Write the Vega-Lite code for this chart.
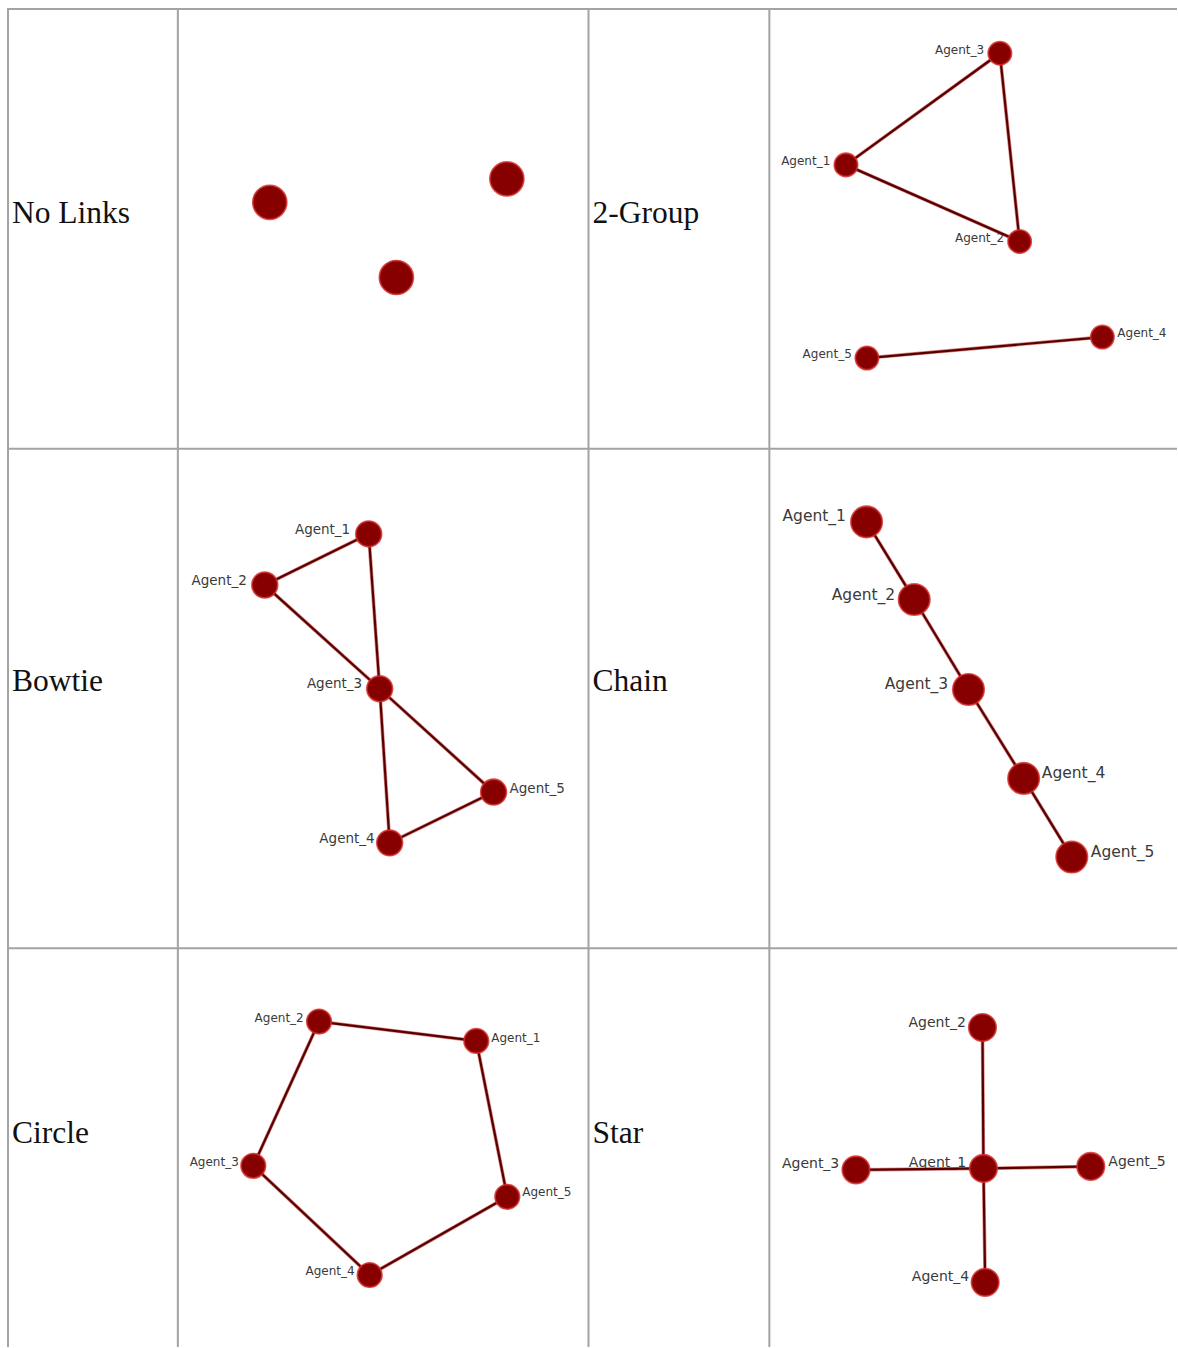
{
  "$schema": "https://vega.github.io/schema/vega-lite/v6.json",
  "width": 1178,
  "height": 1348,
  "autosize": {"type": "fit", "contains": "padding"},
  "padding": 0,
  "background": "white",
  "config": {"view": {"stroke": null}},
  "datasets": {
    "grid": [
      {"x1": 7, "y1": 9, "x2": 1178, "y2": 9},
      {"x1": 8, "y1": 449, "x2": 1178, "y2": 449},
      {"x1": 8, "y1": 949, "x2": 1178, "y2": 949},
      {"x1": 8, "y1": 9, "x2": 8, "y2": 1348},
      {"x1": 178, "y1": 9, "x2": 178, "y2": 1348},
      {"x1": 589, "y1": 9, "x2": 589, "y2": 1348},
      {"x1": 770, "y1": 9, "x2": 770, "y2": 1348}
    ],
    "rows": [
      {"label": "No Links", "x": 12, "y": 223},
      {"label": "2-Group", "x": 593, "y": 223},
      {"label": "Bowtie", "x": 12, "y": 692},
      {"label": "Chain", "x": 593, "y": 692},
      {"label": "Circle", "x": 12, "y": 1144},
      {"label": "Star", "x": 593, "y": 1144}
    ],
    "nodes": [
      {"id": "No Links A", "panel": "No Links", "agent": "", "x": 270, "y": 202.5, "lx": 270, "ly": 202, "side": "none"},
      {"id": "No Links B", "panel": "No Links", "agent": "", "x": 507.3, "y": 179, "lx": 507, "ly": 179, "side": "none"},
      {"id": "No Links C", "panel": "No Links", "agent": "", "x": 396.7, "y": 277.7, "lx": 397, "ly": 278, "side": "none"},

      {"id": "2-Group Agent_1", "panel": "2-Group", "agent": "Agent_1", "x": 846.7, "y": 165, "lx": 831, "ly": 161.5, "side": "left"},
      {"id": "2-Group Agent_2", "panel": "2-Group", "agent": "Agent_2", "x": 1020.5, "y": 241.7, "lx": 1005, "ly": 238.3, "side": "left"},
      {"id": "2-Group Agent_3", "panel": "2-Group", "agent": "Agent_3", "x": 1000.7, "y": 53.3, "lx": 985, "ly": 50, "side": "left"},
      {"id": "2-Group Agent_4", "panel": "2-Group", "agent": "Agent_4", "x": 1103.3, "y": 337.3, "lx": 1118.3, "ly": 333.3, "side": "right"},
      {"id": "2-Group Agent_5", "panel": "2-Group", "agent": "Agent_5", "x": 867.7, "y": 358.3, "lx": 852.5, "ly": 354, "side": "left"},

      {"id": "Bowtie Agent_1", "panel": "Bowtie", "agent": "Agent_1", "x": 369, "y": 534.3, "lx": 350.5, "ly": 530, "side": "left"},
      {"id": "Bowtie Agent_2", "panel": "Bowtie", "agent": "Agent_2", "x": 265, "y": 585.5, "lx": 247, "ly": 581.5, "side": "left"},
      {"id": "Bowtie Agent_3", "panel": "Bowtie", "agent": "Agent_3", "x": 380, "y": 689.3, "lx": 362.5, "ly": 685, "side": "left"},
      {"id": "Bowtie Agent_4", "panel": "Bowtie", "agent": "Agent_4", "x": 390, "y": 843.5, "lx": 375, "ly": 839.3, "side": "left"},
      {"id": "Bowtie Agent_5", "panel": "Bowtie", "agent": "Agent_5", "x": 494, "y": 792.7, "lx": 510, "ly": 789.3, "side": "right"},

      {"id": "Chain Agent_1", "panel": "Chain", "agent": "Agent_1", "x": 867.3, "y": 522.3, "lx": 846.7, "ly": 516.7, "side": "left"},
      {"id": "Chain Agent_2", "panel": "Chain", "agent": "Agent_2", "x": 915, "y": 600, "lx": 896, "ly": 595.7, "side": "left"},
      {"id": "Chain Agent_3", "panel": "Chain", "agent": "Agent_3", "x": 969.3, "y": 690, "lx": 949, "ly": 684.3, "side": "left"},
      {"id": "Chain Agent_4", "panel": "Chain", "agent": "Agent_4", "x": 1024.5, "y": 779, "lx": 1042.7, "ly": 774, "side": "right"},
      {"id": "Chain Agent_5", "panel": "Chain", "agent": "Agent_5", "x": 1072.7, "y": 857.7, "lx": 1091.7, "ly": 852.7, "side": "right"},

      {"id": "Circle Agent_1", "panel": "Circle", "agent": "Agent_1", "x": 476.7, "y": 1041.7, "lx": 491.7, "ly": 1038.3, "side": "right"},
      {"id": "Circle Agent_2", "panel": "Circle", "agent": "Agent_2", "x": 319.3, "y": 1022.3, "lx": 304, "ly": 1018.3, "side": "left"},
      {"id": "Circle Agent_3", "panel": "Circle", "agent": "Agent_3", "x": 253.5, "y": 1166.7, "lx": 239, "ly": 1163.3, "side": "left"},
      {"id": "Circle Agent_4", "panel": "Circle", "agent": "Agent_4", "x": 370, "y": 1276, "lx": 355, "ly": 1271.7, "side": "left"},
      {"id": "Circle Agent_5", "panel": "Circle", "agent": "Agent_5", "x": 507.7, "y": 1197.7, "lx": 522.7, "ly": 1193.3, "side": "right"},

      {"id": "Star Agent_1", "panel": "Star", "agent": "Agent_1", "x": 984.3, "y": 1169.3, "lx": 967, "ly": 1164, "side": "left"},
      {"id": "Star Agent_2", "panel": "Star", "agent": "Agent_2", "x": 983.3, "y": 1028.3, "lx": 966.7, "ly": 1024, "side": "left"},
      {"id": "Star Agent_3", "panel": "Star", "agent": "Agent_3", "x": 856.7, "y": 1170.7, "lx": 840, "ly": 1165, "side": "left"},
      {"id": "Star Agent_4", "panel": "Star", "agent": "Agent_4", "x": 986, "y": 1283.3, "lx": 970, "ly": 1278.3, "side": "left"},
      {"id": "Star Agent_5", "panel": "Star", "agent": "Agent_5", "x": 1091.7, "y": 1167.3, "lx": 1109.3, "ly": 1163.3, "side": "right"}
    ],
    "edges": [
      {"a": "2-Group Agent_1", "b": "2-Group Agent_3"},
      {"a": "2-Group Agent_1", "b": "2-Group Agent_2"},
      {"a": "2-Group Agent_2", "b": "2-Group Agent_3"},
      {"a": "2-Group Agent_4", "b": "2-Group Agent_5"},
      {"a": "Bowtie Agent_1", "b": "Bowtie Agent_2"},
      {"a": "Bowtie Agent_1", "b": "Bowtie Agent_3"},
      {"a": "Bowtie Agent_2", "b": "Bowtie Agent_3"},
      {"a": "Bowtie Agent_3", "b": "Bowtie Agent_4"},
      {"a": "Bowtie Agent_3", "b": "Bowtie Agent_5"},
      {"a": "Bowtie Agent_4", "b": "Bowtie Agent_5"},
      {"a": "Chain Agent_1", "b": "Chain Agent_2"},
      {"a": "Chain Agent_2", "b": "Chain Agent_3"},
      {"a": "Chain Agent_3", "b": "Chain Agent_4"},
      {"a": "Chain Agent_4", "b": "Chain Agent_5"},
      {"a": "Circle Agent_2", "b": "Circle Agent_1"},
      {"a": "Circle Agent_1", "b": "Circle Agent_5"},
      {"a": "Circle Agent_5", "b": "Circle Agent_4"},
      {"a": "Circle Agent_4", "b": "Circle Agent_3"},
      {"a": "Circle Agent_3", "b": "Circle Agent_2"},
      {"a": "Star Agent_1", "b": "Star Agent_2"},
      {"a": "Star Agent_1", "b": "Star Agent_3"},
      {"a": "Star Agent_1", "b": "Star Agent_4"},
      {"a": "Star Agent_1", "b": "Star Agent_5"}
    ]
  },
  "resolve": {"scale": {"size": "independent"}},
  "layer": [
    {
      "data": {"name": "grid"},
      "mark": {"type": "rule", "stroke": "#a3a3a3", "strokeWidth": 2},
      "encoding": {
        "x": {"field": "x1", "type": "quantitative", "scale": {"domain": [0, 1178], "nice": false, "zero": false}, "axis": null},
        "y": {"field": "y1", "type": "quantitative", "scale": {"domain": [0, 1348], "nice": false, "zero": false, "reverse": true}, "axis": null},
        "x2": {"field": "x2"},
        "y2": {"field": "y2"}
      }
    },
    {
      "data": {"name": "rows"},
      "mark": {"type": "text", "align": "left", "baseline": "alphabetic", "font": "Liberation Serif", "fontSize": 31.5, "color": "#111111"},
      "encoding": {
        "x": {"field": "x", "type": "quantitative"},
        "y": {"field": "y", "type": "quantitative"},
        "text": {"field": "label"}
      }
    },
    {
      "data": {"name": "nodes"},
      "transform": [{"filter": "datum.side === 'left'"}],
      "mark": {"type": "text", "align": "right", "baseline": "middle", "font": "DejaVu Sans", "color": "#3a3a3a"},
      "encoding": {
        "x": {"field": "lx", "type": "quantitative"},
        "y": {"field": "ly", "type": "quantitative"},
        "text": {"field": "agent"},
        "size": {"field": "panel", "type": "nominal", "legend": null,
          "scale": {"type": "ordinal", "domain": ["2-Group", "Bowtie", "Chain", "Circle", "Star"], "range": [12, 13.5, 15.5, 12, 14]}}
      }
    },
    {
      "data": {"name": "nodes"},
      "transform": [{"filter": "datum.side === 'right'"}],
      "mark": {"type": "text", "align": "left", "baseline": "middle", "font": "DejaVu Sans", "color": "#3a3a3a"},
      "encoding": {
        "x": {"field": "lx", "type": "quantitative"},
        "y": {"field": "ly", "type": "quantitative"},
        "text": {"field": "agent"},
        "size": {"field": "panel", "type": "nominal", "legend": null,
          "scale": {"type": "ordinal", "domain": ["2-Group", "Bowtie", "Chain", "Circle", "Star"], "range": [12, 13.5, 15.5, 12, 14]}}
      }
    },
    {
      "data": {"name": "edges"},
      "transform": [
        {"lookup": "a", "from": {"data": {"name": "nodes"}, "key": "id", "fields": ["x", "y"]}, "as": ["x1", "y1"]},
        {"lookup": "b", "from": {"data": {"name": "nodes"}, "key": "id", "fields": ["x", "y"]}, "as": ["x2", "y2"]}
      ],
      "mark": {"type": "rule", "stroke": "#c02020", "strokeWidth": 3.6, "opacity": 0.55},
      "encoding": {
        "x": {"field": "x1", "type": "quantitative"},
        "y": {"field": "y1", "type": "quantitative"},
        "x2": {"field": "x2"},
        "y2": {"field": "y2"}
      }
    },
    {
      "data": {"name": "edges"},
      "transform": [
        {"lookup": "a", "from": {"data": {"name": "nodes"}, "key": "id", "fields": ["x", "y"]}, "as": ["x1", "y1"]},
        {"lookup": "b", "from": {"data": {"name": "nodes"}, "key": "id", "fields": ["x", "y"]}, "as": ["x2", "y2"]}
      ],
      "mark": {"type": "rule", "stroke": "#560000", "strokeWidth": 2.2},
      "encoding": {
        "x": {"field": "x1", "type": "quantitative"},
        "y": {"field": "y1", "type": "quantitative"},
        "x2": {"field": "x2"},
        "y2": {"field": "y2"}
      }
    },
    {
      "data": {"name": "nodes"},
      "mark": {"type": "point", "shape": "circle", "filled": true, "fill": "#870000", "stroke": "#d42a2a", "strokeWidth": 1.8, "opacity": 1, "strokeOpacity": 0.8},
      "encoding": {
        "x": {"field": "x", "type": "quantitative"},
        "y": {"field": "y", "type": "quantitative"},
        "size": {"field": "panel", "type": "nominal", "legend": null,
          "scale": {"type": "ordinal", "domain": ["No Links", "2-Group", "Bowtie", "Chain", "Circle", "Star"], "range": [1150, 540, 660, 980, 600, 750]}}
      }
    }
  ]
}
